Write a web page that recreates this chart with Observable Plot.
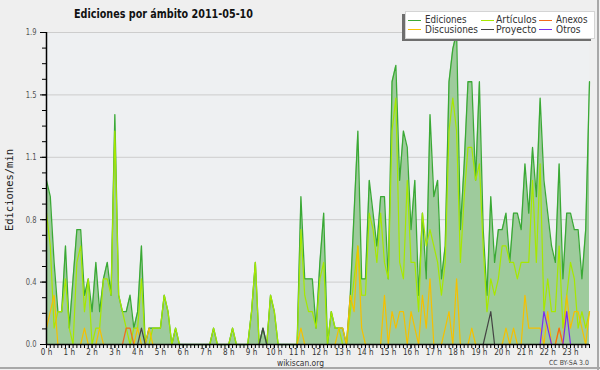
<!DOCTYPE html>
<html>
<head>
<meta charset="utf-8">
<script src="https://cdn.jsdelivr.net/npm/d3@7"></script>
<script src="https://cdn.jsdelivr.net/npm/@observablehq/plot@0.6"></script>
<style>
  html, body { margin: 0; padding: 0; background: #efefef; }
  #wrap { position: relative; width: 600px; height: 370px; background: #efefef; overflow: hidden; font-family: "DejaVu Sans", sans-serif; }
  #chart { position: absolute; left: 0; top: 0; }
  .t { position: absolute; white-space: nowrap; line-height: 1; transform-origin: 0 0; }
  #title { font-weight: bold; font-size: 11.5px; color: #111; }
  #legend-shadow { position: absolute; left: 402px; top: 14px; width: 189px; height: 27px; background: #6e6e6e; }
  #legend-box { position: absolute; left: 405px; top: 11px; width: 188px; height: 26px; background: #fff; border: 1px solid #d4d4d4; }
  .sw { position: absolute; height: 1px; width: 13px; }
  .lg { font-size: 10px; line-height: 0.95; color: #333; }
  #ylab { font-family: "DejaVu Sans Mono", monospace; font-size: 10.5px; color: #222; }
  .cap { font-size: 9.5px; color: #333; }
  #cc { font-size: 7px; color: #444; }
  #bR { position: absolute; left: 597px; top: 0; width: 2px; height: 370px; background: #a8a8a8; }
  #bB { position: absolute; left: 0; top: 367px; width: 600px; height: 2px; background: #a8a8a8; }
</style>
</head>
<body>
<div id="wrap">
  <div id="chart"></div>
  <div id="bR"></div><div id="bB"></div>
</div>
<script>
// ---------- data (10-minute bins, edits per minute) ----------
const ediciones = [
  1.0, 0.9, 0.5, 0.2, 0.2, 0.6, 0.1, 0.4, 0.7, 0.7, 0.3, 0.4,
  0.2, 0.5, 0.2, 0.4, 0.5, 0.3, 1.4, 0.3, 0.2, 0.2, 0.3, 0.1,
  0.2, 0.6, 0.0, 0.1, 0.1, 0.1, 0.1, 0.3, 0.2, 0.0, 0.1, 0.0,
  0.0, 0.0, 0.0, 0.0, 0.0, 0.0, 0.0, 0.0, 0.1, 0.0, 0.0, 0.0,
  0.0, 0.1, 0.0, 0.0, 0.0, 0.0, 0.2, 0.5, 0.0, 0.1, 0.0, 0.3,
  0.2, 0.0, 0.0, 0.0, 0.0, 0.0, 0.0, 0.9, 0.4, 0.4, 0.4, 0.1,
  0.5, 0.8, 0.0, 0.2, 0.1, 0.1, 0.1, 0.0, 0.3, 0.8, 1.3, 0.4,
  0.4, 1.0, 0.8, 0.6, 0.9, 0.9, 0.4, 1.6, 1.7, 1.0, 1.3, 1.2,
  0.7, 1.0, 0.3, 0.8, 0.4, 1.4, 0.9, 1.0, 0.4, 0.6, 1.6, 1.8,
  1.9, 0.7, 1.1, 1.6, 1.6, 1.0, 1.6, 0.7, 0.3, 0.9, 0.5, 0.7,
  0.7, 0.8, 0.5, 0.8, 0.8, 0.7, 1.1, 0.8, 1.2, 0.9, 1.5, 1.0,
  0.8, 0.6, 0.5, 1.1, 0.4, 0.8, 0.8, 0.7, 0.7, 0.4, 0.7, 1.6
];
const articulos = [
  0.8, 0.6, 0.1, 0.2, 0.2, 0.4, 0.1, 0.0, 0.5, 0.6, 0.2, 0.4,
  0.0, 0.1, 0.1, 0.4, 0.4, 0.3, 1.3, 0.3, 0.2, 0.1, 0.0, 0.1,
  0.1, 0.4, 0.0, 0.0, 0.1, 0.1, 0.1, 0.3, 0.2, 0.0, 0.1, 0.0,
  0.0, 0.0, 0.0, 0.0, 0.0, 0.0, 0.0, 0.0, 0.1, 0.0, 0.0, 0.0,
  0.0, 0.1, 0.0, 0.0, 0.0, 0.0, 0.2, 0.5, 0.0, 0.0, 0.0, 0.3,
  0.2, 0.0, 0.0, 0.0, 0.0, 0.0, 0.0, 0.7, 0.3, 0.2, 0.2, 0.1,
  0.4, 0.5, 0.0, 0.2, 0.1, 0.1, 0.0, 0.0, 0.2, 0.4, 0.6, 0.3,
  0.3, 0.8, 0.7, 0.5, 0.8, 0.5, 0.4, 1.3, 1.5, 0.5, 0.4, 1.0,
  0.5, 0.5, 0.2, 0.8, 0.6, 0.7, 0.6, 0.5, 0.3, 0.5, 1.3, 1.5,
  1.3, 0.5, 0.9, 1.2, 1.2, 1.0, 1.1, 0.6, 0.2, 0.4, 0.3, 0.4,
  0.6, 0.6, 0.5, 0.5, 0.4, 0.5, 0.5, 0.5, 1.0, 0.5, 1.1, 0.2,
  0.4, 0.2, 0.2, 0.6, 0.1, 0.3, 0.5, 0.4, 0.1, 0.2, 0.1, 0.2
];
const discusiones = [
  0.1, 0.2, 0.3, 0.0, 0.0, 0.0, 0.0, 0.0, 0.0, 0.0, 0.1, 0.0,
  0.0, 0.0, 0.1, 0.0, 0.0, 0.0, 0.0, 0.0, 0.0, 0.0, 0.0, 0.0,
  0.1, 0.0, 0.0, 0.1, 0.0, 0.0, 0.0, 0.0, 0.0, 0.0, 0.0, 0.0,
  0.0, 0.0, 0.0, 0.0, 0.0, 0.0, 0.0, 0.0, 0.0, 0.0, 0.0, 0.0,
  0.0, 0.0, 0.0, 0.0, 0.0, 0.0, 0.0, 0.0, 0.0, 0.0, 0.0, 0.0,
  0.0, 0.0, 0.0, 0.0, 0.0, 0.0, 0.0, 0.1, 0.0, 0.0, 0.0, 0.0,
  0.0, 0.0, 0.0, 0.0, 0.0, 0.1, 0.1, 0.0, 0.3, 0.2, 0.6, 0.1,
  0.0, 0.0, 0.0, 0.0, 0.0, 0.3, 0.0, 0.2, 0.1, 0.2, 0.2, 0.0,
  0.2, 0.1, 0.0, 0.3, 0.1, 0.4, 0.0, 0.0, 0.0, 0.1, 0.2, 0.0,
  0.4, 0.0, 0.0, 0.0, 0.1, 0.0, 0.0, 0.0, 0.0, 0.0, 0.0, 0.0,
  0.0, 0.1, 0.0, 0.1, 0.0, 0.0, 0.3, 0.1, 0.1, 0.1, 0.1, 0.0,
  0.2, 0.0, 0.0, 0.1, 0.0, 0.3, 0.1, 0.2, 0.2, 0.1, 0.0, 0.2
];
const anexos = [
  0, 0, 0, 0, 0, 0, 0, 0, 0, 0, 0, 0,
  0, 0, 0, 0, 0, 0, 0, 0, 0, 0.1, 0.1, 0,
  0, 0, 0, 0, 0, 0, 0, 0, 0, 0, 0, 0,
  0, 0, 0, 0, 0, 0, 0, 0, 0, 0, 0, 0,
  0, 0, 0, 0, 0, 0, 0, 0, 0, 0, 0, 0,
  0, 0, 0, 0, 0, 0, 0, 0, 0, 0, 0, 0,
  0, 0, 0, 0, 0, 0, 0, 0, 0, 0, 0, 0,
  0, 0, 0, 0, 0, 0, 0, 0, 0, 0, 0, 0,
  0, 0, 0, 0, 0, 0, 0, 0, 0, 0, 0, 0,
  0, 0, 0, 0, 0, 0, 0, 0, 0, 0, 0, 0,
  0, 0, 0, 0, 0, 0, 0, 0, 0, 0, 0, 0,
  0, 0, 0, 0.1, 0, 0, 0, 0, 0, 0, 0, 0
];
const proyecto = [
  0, 0, 0, 0, 0, 0, 0, 0, 0, 0, 0, 0,
  0, 0, 0, 0, 0, 0, 0, 0, 0, 0, 0, 0,
  0, 0.1, 0, 0, 0, 0, 0, 0, 0, 0, 0, 0,
  0, 0, 0, 0, 0, 0, 0, 0, 0, 0, 0, 0,
  0, 0, 0, 0, 0, 0, 0, 0, 0, 0.1, 0, 0,
  0, 0, 0, 0, 0, 0, 0, 0, 0, 0, 0, 0,
  0, 0, 0, 0, 0, 0, 0, 0, 0, 0, 0, 0,
  0, 0, 0, 0, 0, 0, 0, 0, 0, 0, 0, 0,
  0, 0, 0, 0, 0, 0, 0, 0, 0, 0, 0, 0,
  0, 0, 0, 0, 0, 0, 0, 0, 0.1, 0.2, 0, 0,
  0, 0, 0, 0, 0, 0, 0, 0, 0, 0, 0, 0,
  0, 0, 0, 0, 0, 0, 0, 0, 0, 0, 0, 0
];
const otros = [
  0, 0, 0, 0, 0, 0, 0, 0, 0, 0, 0, 0,
  0, 0, 0, 0, 0, 0, 0, 0, 0, 0, 0, 0,
  0, 0, 0, 0, 0, 0, 0, 0, 0, 0, 0, 0,
  0, 0, 0, 0, 0, 0, 0, 0, 0, 0, 0, 0,
  0, 0, 0, 0, 0, 0, 0, 0, 0, 0, 0, 0,
  0, 0, 0, 0, 0, 0, 0, 0, 0, 0, 0, 0,
  0, 0, 0, 0, 0, 0, 0, 0, 0, 0, 0, 0,
  0, 0, 0, 0, 0, 0, 0, 0, 0, 0, 0, 0,
  0, 0, 0, 0, 0, 0, 0, 0, 0, 0, 0, 0,
  0, 0, 0, 0, 0, 0, 0, 0, 0, 0, 0, 0,
  0, 0, 0, 0, 0, 0, 0, 0, 0, 0, 0, 0.2,
  0.1, 0, 0, 0, 0, 0.2, 0, 0, 0, 0, 0, 0
];
const hourLabels = ["0 h","1 h","2 h","3 h","4 h","5 h","6 h","7 h","8 h","9 h","10 h","11 h",
  "12 h","13 h","14 h","15 h","16 h","17 h","18 h","19 h","20 h","21 h","22 h","23 h"];
const yTicks = [0, 0.38, 0.76, 1.14, 1.52, 1.9];
const yLabels = ["0.0", "0.4", "0.8", "1.1", "1.5", "1.9"];
const seriesNames = ["Ediciones", "Artículos", "Anexos", "Discusiones", "Proyecto", "Otros"];
const seriesColors = ["#3aa935", "#a6e800", "#f26a1b", "#f5c000", "#444444", "#7b2cf0"];
const titleText = "Ediciones por ámbito  2011-05-10";
const yTitle = "Ediciones/min";

// ---------- table for the library ----------
const rows = ediciones.map((v, i) => ({
  i, ed: v, ar: articulos[i], di: discusiones[i], an: anexos[i], pr: proyecto[i], ot: otros[i]
}));
const hourTicks = hourLabels.map((_, h) => h * 6);
const minorX = rows.map(r => r.i);
const yMinor = d3.range(0, 21).map(k => k * 0.095);

const chart = Plot.plot({
  width: 600,
  height: 370,
  marginLeft: 46, marginRight: 11, marginTop: 32, marginBottom: 26,
  style: { background: "transparent", fontFamily: "DejaVu Sans, sans-serif", color: "#333", overflow: "visible" },
  x: { domain: [0, 143], axis: null },
  y: { domain: [0, 1.9], axis: null },
  marks: [
    Plot.frame({ fill: "#eef0f2", stroke: null }),
    Plot.ruleY(yTicks.slice(1), { stroke: "#cdcdcd", strokeWidth: 1 }),
    Plot.areaY(rows, { x: "i", y: "ed", fill: "#9ecb9c" }),
    Plot.lineY(rows, { x: "i", y: "ed", stroke: seriesColors[0], strokeWidth: 1.3 }),
    Plot.lineY(rows, { x: "i", y: "ar", stroke: seriesColors[1], strokeWidth: 1.2 }),
    Plot.lineY(rows, { x: "i", y: "di", stroke: seriesColors[3], strokeWidth: 1.2 }),
    Plot.lineY(rows, { x: "i", y: "an", stroke: seriesColors[2], strokeWidth: 1.2 }),
    Plot.lineY(rows, { x: "i", y: "pr", stroke: seriesColors[4], strokeWidth: 1.2 }),
    Plot.lineY(rows, { x: "i", y: "ot", stroke: seriesColors[5], strokeWidth: 1.2 }),
    Plot.axisY({ ticks: yMinor, tickSize: 4, tickFormat: () => "", label: null, stroke: "#000" }),
    Plot.axisY({ ticks: yTicks, tickSize: 6, tickPadding: 4, label: null, stroke: "#000",
      tickFormat: d => yLabels[yTicks.indexOf(d)], fontSize: 9, fill: "#555" }),
    Plot.axisX({ ticks: minorX, tickSize: 4, tickFormat: () => "", label: null, stroke: "#000" }),
    Plot.axisX({ ticks: hourTicks, tickSize: 4, tickPadding: 0, label: null, stroke: "#000",
      tickFormat: d => hourLabels[hourTicks.indexOf(d)], fontSize: 9, fill: "#333" }),
    Plot.ruleX([0], { stroke: "#000", strokeWidth: 1.5 }),
    Plot.ruleY([0], { stroke: "#000", strokeWidth: 1.5 })
  ]
});
document.getElementById("chart").appendChild(chart);

// narrow the axis tick labels like the reference's condensed font
function squeeze(sel, f) {
  chart.querySelectorAll(sel).forEach(t => {
    const w = t.getComputedTextLength();
    if (w > 0) {
      t.setAttribute("textLength", (w * f).toFixed(2));
      t.setAttribute("lengthAdjust", "spacingAndGlyphs");
    }
  });
}
squeeze('g[aria-label="x-axis tick label"] text', 0.8);
squeeze('g[aria-label="y-axis tick label"] text', 0.75);

// ---------- overlay text (title, legend, captions) ----------
const wrap = document.getElementById("wrap");
function addText(id, cls, text, left, top, target) {
  const el = document.createElement("div");
  if (id) el.id = id;
  el.className = "t " + (cls || "");
  el.textContent = text;
  el.style.left = left + "px";
  el.style.top = top + "px";
  wrap.appendChild(el);
  if (target) {
    const w = el.getBoundingClientRect().width;
    el.style.transform = "scaleX(" + (target / w) + ")";
  }
  return el;
}
addText("title", "", titleText, 74, 8.6, 179);

const sh = document.createElement("div"); sh.id = "legend-shadow"; wrap.appendChild(sh);
const box = document.createElement("div"); box.id = "legend-box"; wrap.appendChild(box);
const legPos = [
  { sx: 408, tx: 424.5, y: 19.5, ty: 15, w: 41.5 },
  { sx: 481, tx: 496, y: 19.5, ty: 15, w: 40.5 },
  { sx: 539, tx: 555.5, y: 19.5, ty: 15, w: 31.5 },
  { sx: 408, tx: 424.5, y: 29, ty: 25, w: 53 },
  { sx: 481, tx: 496, y: 28.5, ty: 24.5, w: 40.5 },
  { sx: 539, tx: 555.5, y: 29, ty: 25, w: 24.5 }
];
seriesNames.forEach((name, k) => {
  const p = legPos[k];
  const s = document.createElement("div");
  s.className = "sw";
  s.style.left = p.sx + "px"; s.style.top = p.y + "px";
  s.style.background = seriesColors[k];
  wrap.appendChild(s);
  addText(null, "lg", name, p.tx, p.ty, p.w);
});

const yl = addText("ylab", "", yTitle, 0, 0, null);
const yw = yl.getBoundingClientRect().width;
yl.style.left = "4px";
yl.style.top = "0px";
yl.style.transformOrigin = "0 0";
yl.style.transform = "translate(0px," + (190 + yw / 2) + "px) rotate(-90deg)";

addText(null, "cap", "wikiscan.org", 277, 357.5, 47);
addText("cc", "", "CC BY-SA 3.0", 549, 359.5, 40);
</script>
</body>
</html>
